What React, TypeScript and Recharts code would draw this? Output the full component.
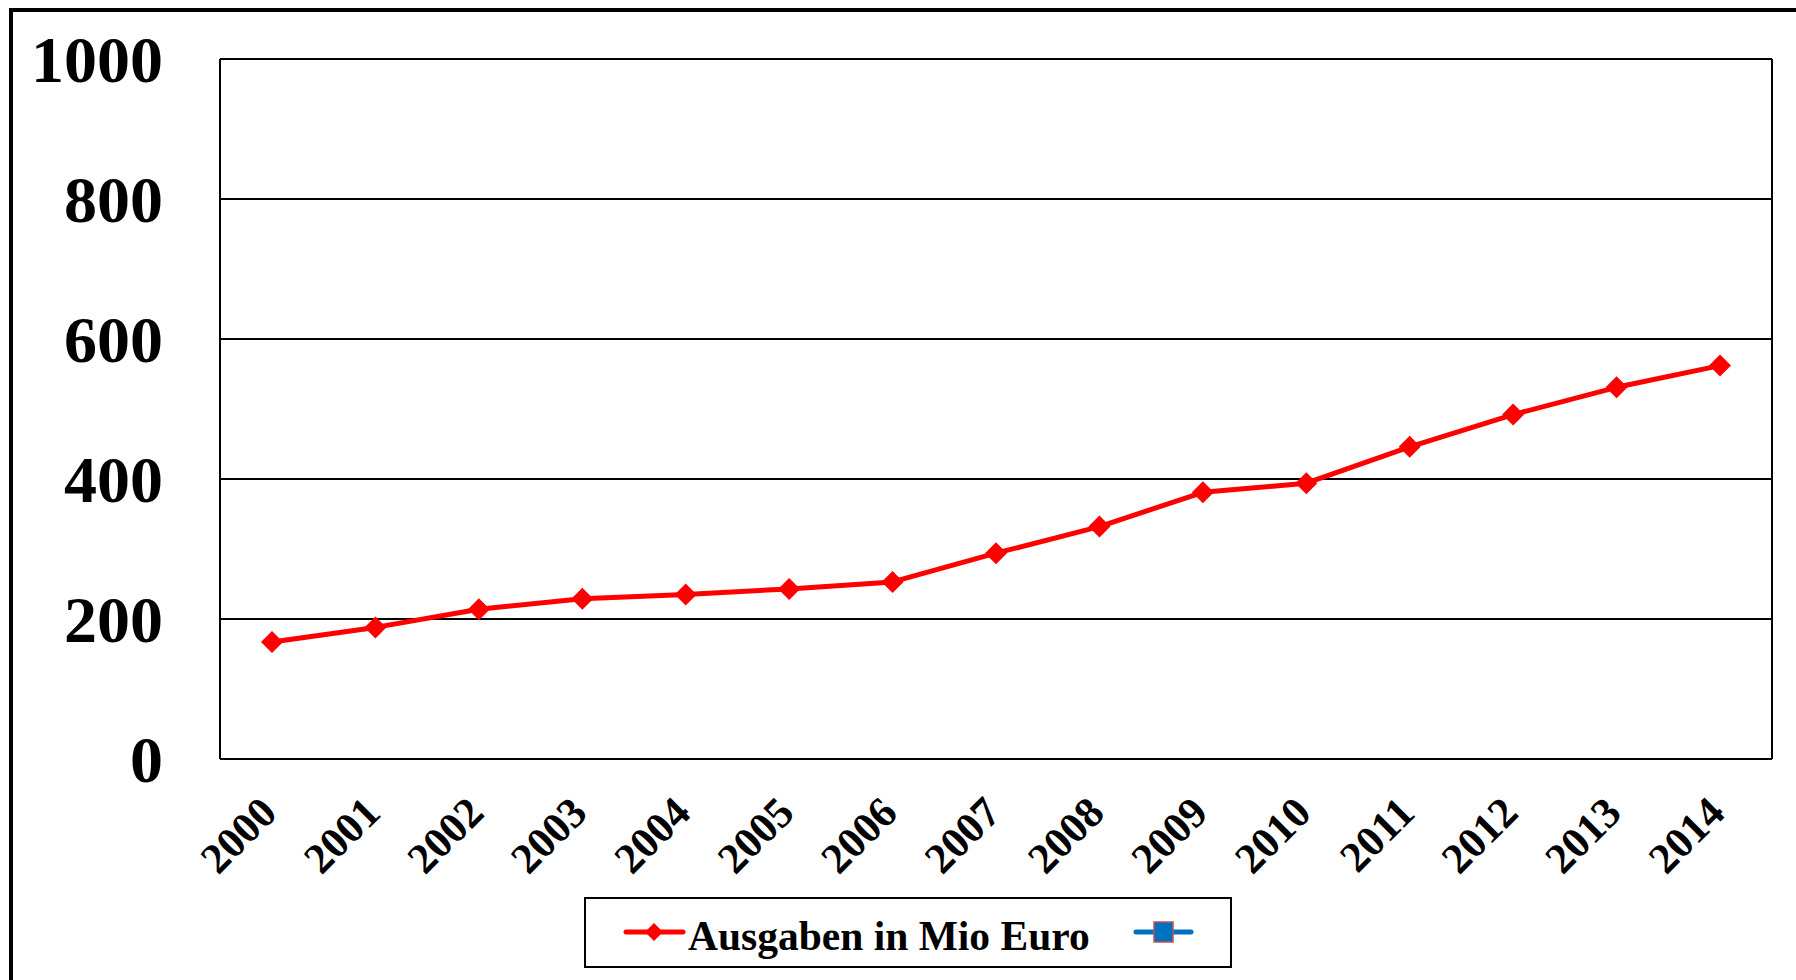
import React from 'react';
import { LineChart, Line, XAxis, YAxis, CartesianGrid } from 'recharts';

const years = ['2000', '2001', '2002', '2003', '2004', '2005', '2006', '2007', '2008', '2009', '2010', '2011', '2012', '2013', '2014'];
const spending = [167, 188, 214, 229, 235, 243, 253, 294, 332, 381, 394, 446, 492, 531, 562];
const yTicks = [0, 200, 400, 600, 800, 1000];
const seriesName = 'Ausgaben in Mio Euro';

const data = years.map((year, i) => ({ year, value: spending[i] }));

const FONT = '"Liberation Serif", "Times New Roman", serif';

const Diamond = (props: any) => {
  const { cx, cy, index } = props;
  if (cx == null || cy == null) return null;
  const r = 11;
  return (
    <polygon
      key={`d-${index}`}
      points={`${cx},${cy - r} ${cx + r},${cy} ${cx},${cy + r} ${cx - r},${cy}`}
      fill="#FF0000"
      stroke="none"
    />
  );
};

const YTick = (props: any) => {
  const { x, y, payload } = props;
  return (
    <text
      x={x - 57}
      y={y}
      dy={22.5}
      textAnchor="end"
      fill="#000"
      fontFamily={FONT}
      fontWeight="bold"
      fontSize={66}
    >
      {payload.value}
    </text>
  );
};

const XTick = (props: any) => {
  const { x, y, payload } = props;
  return (
    <g transform={`translate(${x + 7},${y + 56})`}>
      <text
        x={0}
        y={0}
        textAnchor="end"
        transform="rotate(-45)"
        fill="#000"
        fontFamily={FONT}
        fontWeight="bold"
        fontSize={43}
      >
        {payload.value}
      </text>
    </g>
  );
};

export default function App() {
  return (
    <div
      style={{
        position: 'fixed',
        left: 0,
        top: 0,
        width: 1796,
        height: 980,
        overflow: 'hidden',
        background: '#fff',
      }}
    >
      <div
        style={{
          position: 'absolute',
          left: 9,
          top: 8,
          width: 3000,
          height: 3000,
          border: '4px solid #000',
          boxSizing: 'border-box',
        }}
      />
      <div style={{ position: 'absolute', left: 0, top: 0 }}>
        <LineChart
          width={1796}
          height={980}
          data={data}
          margin={{ top: 59, right: 24, left: 0, bottom: 101 }}
        >
          <CartesianGrid
            stroke="#000"
            strokeWidth={2}
            horizontal={true}
            vertical={true}
            verticalCoordinatesGenerator={({ offset }: any) => [offset.left, offset.left + offset.width]}
          />
          <XAxis
            dataKey="year"
            type="category"
            padding={{ left: 52, right: 52 }}
            height={120}
            tickSize={0}
            tickMargin={0}
            tickLine={false}
            axisLine={{ stroke: '#000', strokeWidth: 2 }}
            tick={<XTick />}
            interval={0}
          />
          <YAxis
            type="number"
            domain={[0, 1000]}
            ticks={yTicks}
            width={220}
            tickSize={0}
            tickMargin={0}
            tickLine={false}
            axisLine={{ stroke: '#000', strokeWidth: 2 }}
            tick={<YTick />}
            interval={0}
          />
          <Line
            type="linear"
            dataKey="value"
            name={seriesName}
            stroke="#FF0000"
            strokeWidth={5}
            strokeLinejoin="round"
            dot={Diamond}
            activeDot={false}
            isAnimationActive={false}
          />
        </LineChart>
      </div>
      <svg
        style={{ position: 'absolute', left: 584, top: 897 }}
        width={648}
        height={72}
      >
        <rect x={1} y={1} width={646} height={69} fill="#fff" stroke="#000" strokeWidth={2} />
        <line x1={42} y1={35} x2={99} y2={35} stroke="#FF0000" strokeWidth={5} strokeLinecap="round" />
        <polygon points="70,26 79,35 70,44 61,35" fill="#FF0000" />
        <text x={104} y={53} fontFamily={FONT} fontWeight="bold" fontSize={41.5} fill="#000">
          {seriesName}
        </text>
        <line x1={552} y1={35} x2={607} y2={35} stroke="#0070C0" strokeWidth={5} strokeLinecap="round" />
        <rect x={570} y={25} width={19} height={20} fill="#0070C0" stroke="#C0504D" strokeWidth={1.5} />
      </svg>
    </div>
  );
}
